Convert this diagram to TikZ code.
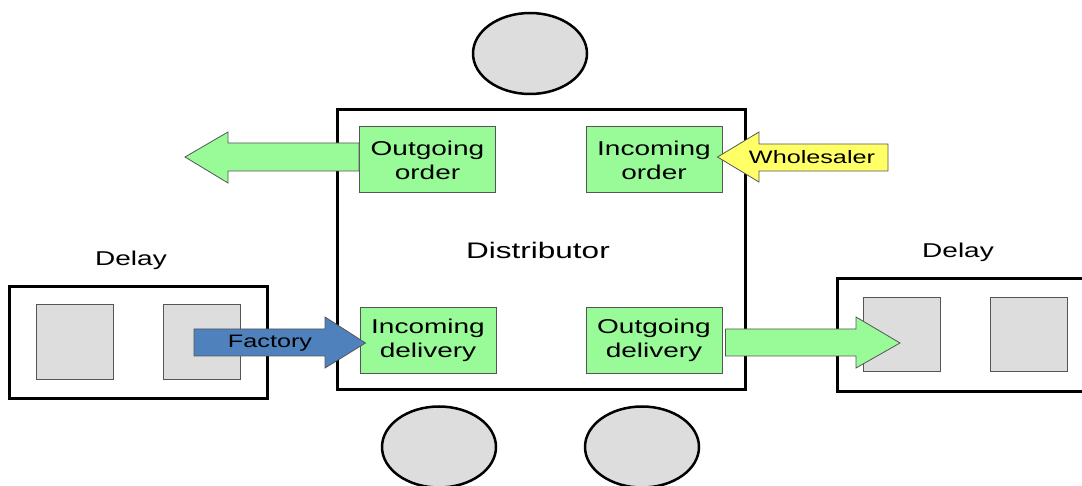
\documentclass[tikz,border=0pt]{standalone}
\usepackage{fontspec}
\newfontfamily\lab[FakeStretch=1.4]{Liberation Sans}
\usetikzlibrary{shapes.geometric}
\definecolor{boxgreen}{HTML}{98FB98}
\definecolor{cellgray}{HTML}{DDDDDD}
\definecolor{factblue}{HTML}{4F81BD}
\definecolor{wsyellow}{HTML}{FFFF66}
\definecolor{edgegray}{HTML}{555555}
\tikzset{
  role/.style={ellipse, draw=black, line width=2.5pt, fill=cellgray,
    minimum width=114pt, minimum height=81pt, inner sep=0pt},
  frame/.style={draw=black, line width=3pt, fill=white, inner sep=0pt},
  cell/.style={draw=edgegray, line width=1pt, fill=cellgray, inner sep=0pt,
    minimum width=77pt, minimum height=74pt},
  stage/.style={draw=edgegray, line width=1pt, fill=boxgreen, inner sep=0pt,
    minimum width=136pt, minimum height=66pt, align=center,
    font=\lab\fontsize{20}{24}\selectfont},
  blockarrow/.style={draw=edgegray, line width=0.8pt, line join=miter},
  lbl/.style={font=\lab\fontsize{20}{24}\selectfont, inner sep=0pt},
  small/.style={font=\lab\fontsize{18}{20}\selectfont, inner sep=0pt}
}
\begin{document}
\begin{tikzpicture}[x=1pt, y=-1pt]
\useasboundingbox (0,0) rectangle (1082,486);
\clip (0,0) rectangle (1082,486);

% roles around the distributor
\node[role] (top) at (530,53.5) {};
\node[role] (botl) at (439,447) {};
\node[role] (botr) at (642,447) {};

% distributor frame
\node[frame, minimum width=408pt, minimum height=279pt] (dist) at (541,249.5) {};
\node[lbl, font=\lab\fontsize{22.5}{26}\selectfont] (distlbl) at (538,250) {Distributor};

% delay lines
\node[frame, minimum width=258pt, minimum height=111pt] (dl) at (138,342.5) {};
\node[cell] (dl1) at (74.5,342) {};
\node[cell] (dl2) at (201.5,342) {};
\node[lbl] (dllbl) at (131,260) {Delay};

\node[frame, minimum width=260pt, minimum height=112pt] (dr) at (967,335) {};
\node[cell] (dr1) at (901.5,335) {};
\node[cell] (dr2) at (1029,335) {};
\node[lbl] (drlbl) at (958,252) {Delay};

% stages inside the distributor
\node[stage] (oo) at (427.5,160) {Outgoing\\order};
\node[stage] (io) at (654,160) {Incoming\\order};
\node[stage] (id) at (428,340.5) {Incoming\\delivery};
\node[stage] (od) at (654,340.5) {Outgoing\\delivery};

% outgoing order to the supplier
\draw[blockarrow, fill=boxgreen] ([yshift=17pt]oo.west) -- (228,143) -- (228,132) -- (185,157)
  -- (228,183) -- (228,171) -- ([yshift=-11pt]oo.west) -- cycle;

% order from the wholesaler
\draw[blockarrow, fill=wsyellow] (888,144) -- (759,144) -- (759,132) -- ([xshift=-5pt,yshift=3pt]io.east)
  -- (759,182) -- (759,171) -- (888,171) -- cycle;
\node[small] (ws) at (812,157) {Wholesaler};

% delivery from the factory
\draw[blockarrow, fill=factblue] (194,329) -- (325,329) -- (325,317) -- ([xshift=6pt,yshift=-2.5pt]id.west)
  -- (325,368) -- (325,356) -- (194,356) -- cycle;
\node[small] (fac) at (270,343) {Factory};

% outgoing delivery into the delay line
\draw[blockarrow, fill=boxgreen] ([xshift=3pt,yshift=11.5pt]od.east) -- (856,329) -- (856,317) -- (900,343)
  -- (856,368) -- (856,356) -- ([xshift=3pt,yshift=-15.5pt]od.east) -- cycle;
\end{tikzpicture}
\end{document}
